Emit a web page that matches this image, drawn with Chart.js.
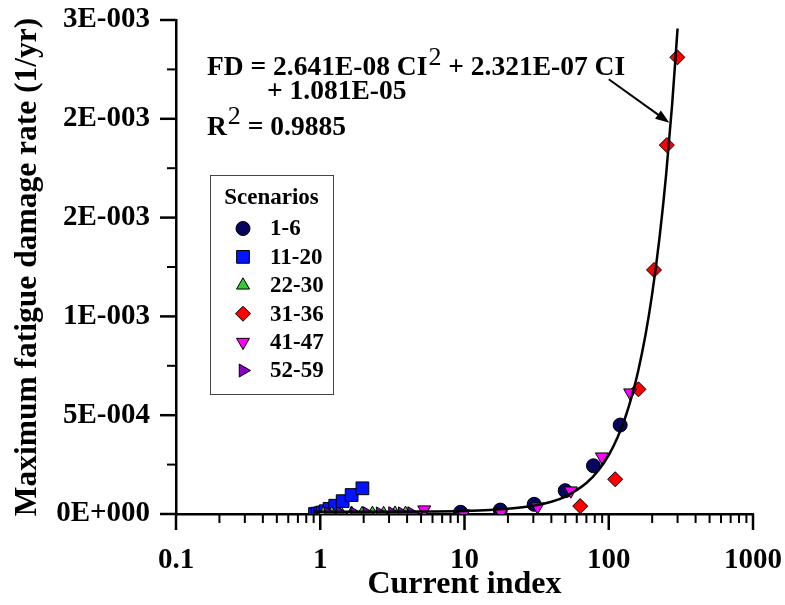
<!DOCTYPE html>
<html>
<head>
<meta charset="utf-8">
<script src="https://cdn.jsdelivr.net/npm/chart.js@4.4.0/dist/chart.umd.min.js"></script>
<style>
html, body { margin: 0; padding: 0; background: #fff; }
</style>
</head>
<body>
<canvas id="myChart" width="785" height="605"></canvas>
<script>
// tick labels as printed on the figure
const xTickLabels = ['0.1', '1', '10', '100', '1000'];
const yTickLabels = ['0E+000', '5E-004', '1E-003', '2E-003', '2E-003', '3E-003'];
const scenarioNames = ['1-6', '11-20', '22-30', '31-36', '41-47', '52-59'];

// scenario points (current index, fatigue damage rate)
const s1_x = [9.4, 17.7, 30.4, 49.9, 78.3, 120];
const s1_y = [0.0000086, 0.00002, 0.000049, 0.000118, 0.000244, 0.00045];
const s2_x = [0.92, 0.96, 1.0, 1.04, 1.09, 1.16, 1.27, 1.43, 1.65, 1.96];
const s2_y = [0, 0.000002, 0.000004, 0.000008, 0.000014, 0.000026, 0.000042, 0.000065, 0.000096, 0.00013];
const s3_x = [1.05, 1.2, 1.4, 1.65, 1.95, 2.3, 2.75, 3.3, 3.9];
const s3_y = [0, 0.000001, 0, 0.000002, 0.000001, 0.000002, 0.000001, 0.000003, 0.000002];
const s4_x = [63.4, 110.8, 160.7, 206, 252.7, 299];
const s4_y = [0.00004, 0.000176, 0.000631, 0.001235, 0.001867, 0.002311];
const s5_x = [5.26, 9.84, 17.9, 32.1, 54.6, 89.6, 140.7];
const s5_y = [0.000022, 0.000002, 0.000007, 0.000037, 0.000118, 0.00029, 0.000614];
const s6_x = [1.14, 1.38, 1.73, 2.11, 2.6, 3.17, 3.7, 4.3];
const s6_y = [0.000003, 0.000004, 0.000003, 0.000004, 0.000003, 0.000004, 0.000003, 0.000004];

// fitted curve
const fit_x = [0.9, 2, 3, 5, 10, 15, 20, 30, 40, 50, 70, 85, 100, 115, 130, 145, 160, 180, 200, 225, 250, 275, 300];
const fit_y = [0.000011, 0.0000114, 0.0000118, 0.0000126, 0.0000158, 0.0000202, 0.000026, 0.0000415, 0.0000623, 0.0000884, 0.0001565, 0.000221, 0.000298, 0.000387, 0.000487, 0.0006, 0.000724, 0.000908, 0.001114, 0.0014, 0.001719, 0.002072, 0.002457];

const seriesX = [s1_x, s2_x, s3_x, s4_x, s5_x, s6_x];
const seriesY = [s1_y, s2_y, s3_y, s4_y, s5_y, s6_y];

const markers = [
    { fill: '#06065e', style: 'circle', rotation: 0, radius: 7 },
    { fill: '#0514ff', style: 'rect', rotation: 0, radius: 9 },
    { fill: '#33cc33', style: 'triangle', rotation: 0, radius: 7.5 },
    { fill: '#ff0000', style: 'rectRot', rotation: 0, radius: 7.5 },
    { fill: '#ff00ff', style: 'triangle', rotation: 180, radius: 7.5 },
    { fill: '#8a00c8', style: 'triangle', rotation: 90, radius: 7.5 }
];

const FONT = "'Liberation Serif', 'Times New Roman', serif";

const toPoints = (xs, ys) => xs.map((x, i) => ({ x: x, y: ys[i] }));

const datasets = [{
    label: 'fit',
    data: toPoints(fit_x, fit_y),
    showLine: true,
    borderColor: '#000',
    borderWidth: 2.5,
    pointRadius: 0,
    fill: false,
    cubicInterpolationMode: 'monotone',
    order: 0
}];
scenarioNames.forEach((name, i) => {
    datasets.push({
        label: name,
        data: toPoints(seriesX[i], seriesY[i]),
        showLine: false,
        pointStyle: markers[i].style,
        rotation: markers[i].rotation,
        pointRadius: markers[i].radius,
        backgroundColor: markers[i].fill,
        borderColor: '#000',
        borderWidth: 1,
        order: 10 - i
    });
});

function drawMarker(ctx, m, x, y) {
    ctx.save();
    ctx.fillStyle = m.fill;
    ctx.strokeStyle = '#000';
    ctx.lineWidth = 1;
    Chart.helpers.drawPoint(ctx, { pointStyle: m.style, rotation: m.rotation, radius: m.radius, borderWidth: 1 }, x, y);
    ctx.restore();
}

const extrasPlugin = {
    id: 'extras',
    afterDraw(chart) {
        const ctx = chart.ctx;
        const xs = chart.scales.x, ys = chart.scales.y;
        const area = chart.chartArea;
        ctx.save();
        ctx.strokeStyle = '#000';
        // x ticks, major and minor
        for (let p = -1; p <= 3; p++) {
            for (let m = 1; m <= 9; m++) {
                const v = m * Math.pow(10, p);
                if (v > 1000.001) break;
                const px = xs.getPixelForValue(v);
                ctx.lineWidth = m === 1 ? 2.5 : 2;
                ctx.beginPath();
                ctx.moveTo(px, area.bottom);
                ctx.lineTo(px, area.bottom + (m === 1 ? 16 : 9));
                ctx.stroke();
            }
        }
        // y ticks, major and minor
        for (let i = 0; i <= 10; i++) {
            const py = ys.getPixelForValue(i * 0.00025);
            const major = i % 2 === 0;
            ctx.lineWidth = major ? 2.5 : 2;
            ctx.beginPath();
            ctx.moveTo(area.left - (major ? 16 : 9), py);
            ctx.lineTo(area.left, py);
            ctx.stroke();
        }

        // equation text
        ctx.fillStyle = '#000';
        ctx.textBaseline = 'alphabetic';
        ctx.textAlign = 'left';
        const bold = 'bold 27.5px ' + FONT;
        const sup = '26px ' + FONT;
        let x = 207;
        ctx.font = bold;
        let t = 'FD = 2.641E-08 CI';
        ctx.fillText(t, x, 75);
        x += ctx.measureText(t).width;
        ctx.font = sup;
        ctx.fillText('2', x + 1, 65);
        x += ctx.measureText('2').width + 1;
        ctx.font = bold;
        ctx.fillText(' + 2.321E-07 CI', x, 75);
        ctx.fillText('+ 1.081E-05', 267, 99);
        ctx.fillText('R', 207, 135);
        let rx = 207 + ctx.measureText('R').width;
        ctx.font = sup;
        ctx.fillText('2', rx + 1, 124);
        rx += ctx.measureText('2').width + 1;
        ctx.font = bold;
        ctx.fillText(' = 0.9885', rx, 135);

        // arrow to the curve
        const ax0 = xs.getPixelForValue(100), ay0 = ys.getPixelForValue(0.0022);
        const ax1 = xs.getPixelForValue(263), ay1 = ys.getPixelForValue(0.00198);
        const ang = Math.atan2(ay1 - ay0, ax1 - ax0);
        ctx.lineWidth = 2;
        ctx.beginPath();
        ctx.moveTo(ax0, ay0);
        ctx.lineTo(ax1 - 10 * Math.cos(ang), ay1 - 10 * Math.sin(ang));
        ctx.stroke();
        ctx.beginPath();
        ctx.moveTo(ax1, ay1);
        ctx.lineTo(ax1 - 14 * Math.cos(ang) + 5 * Math.sin(ang), ay1 - 14 * Math.sin(ang) - 5 * Math.cos(ang));
        ctx.lineTo(ax1 - 14 * Math.cos(ang) - 5 * Math.sin(ang), ay1 - 14 * Math.sin(ang) + 5 * Math.cos(ang));
        ctx.closePath();
        ctx.fill();

        // legend box
        const lx = 210, ly = 175, lw = 123, lh = 219;
        ctx.lineWidth = 1;
        ctx.strokeStyle = '#444';
        ctx.strokeRect(lx + 0.5, ly + 0.5, lw, lh);
        ctx.fillStyle = '#000';
        ctx.font = 'bold 23px ' + FONT;
        ctx.textAlign = 'center';
        ctx.textBaseline = 'middle';
        ctx.fillText('Scenarios', lx + lw / 2, 198);
        ctx.textAlign = 'left';
        scenarioNames.forEach((name, i) => {
            const cy = 228.5 + i * 28.4;
            drawMarker(ctx, markers[i], 243, cy);
            ctx.fillStyle = '#000';
            ctx.fillText(name, 270, cy + 1);
        });
        ctx.restore();
    }
};

const config = {
    type: 'scatter',
    data: { datasets: datasets },
    options: {
        responsive: false,
        animation: false,
        layout: { padding: { top: 20, right: 32, left: 0, bottom: 0 } },
        plugins: {
            legend: { display: false },
            tooltip: { enabled: false }
        },
        scales: {
            x: {
                type: 'logarithmic',
                min: 0.1,
                max: 1000,
                afterFit: s => {
                    s.height = 91;
                    s.paddingLeft = 0;
                    s.paddingRight = 0;
                },
                afterBuildTicks: s => {
                    s.ticks = xTickLabels.map(l => ({ value: parseFloat(l), major: true }));
                },
                ticks: {
                    autoSkip: false,
                    maxRotation: 0,
                    padding: 21,
                    color: '#000',
                    font: { family: FONT, size: 29, weight: 'bold' },
                    callback: (v, i) => xTickLabels[i]
                },
                grid: { display: false },
                border: { display: true, color: '#000', width: 2.5 },
                title: {
                    display: true,
                    text: 'Current index',
                    color: '#000',
                    font: { family: FONT, size: 32, weight: 'bold' },
                    padding: { top: 0, bottom: 1 }
                }
            },
            y: {
                min: 0,
                max: 0.0025,
                afterFit: s => {
                    s.width = 176;
                    s.paddingTop = 0;
                    s.paddingBottom = 0;
                },
                ticks: {
                    stepSize: 0.0005,
                    padding: 18,
                    color: '#000',
                    font: { family: FONT, size: 29, weight: 'bold' },
                    callback: (v, i) => yTickLabels[i]
                },
                grid: { display: false },
                border: { display: true, color: '#000', width: 2.5 },
                title: {
                    display: true,
                    text: 'Maximum fatigue damage rate (1/yr)',
                    color: '#000',
                    font: { family: FONT, size: 31.5, weight: 'bold' },
                    padding: { top: 9, bottom: 0 }
                }
            }
        }
    },
    plugins: [extrasPlugin]
};

const ctx = document.getElementById('myChart').getContext('2d');
new Chart(ctx, config);
</script>
</body>
</html>
